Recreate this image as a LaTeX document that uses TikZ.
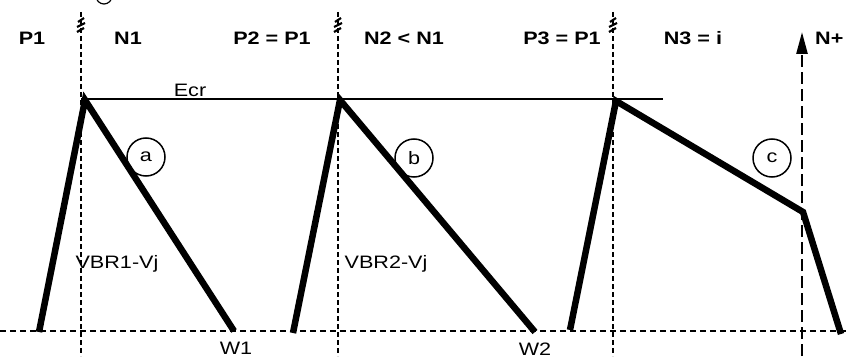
\documentclass[tikz,border=0pt]{standalone}
\usepackage{fontspec}
\setmainfont{Liberation Sans}
\newfontfamily\labfont[FakeStretch=1.2]{Liberation Sans}
\usetikzlibrary{arrows.meta}
\begin{document}
\begin{tikzpicture}[x=1pt,y=-1pt,
  toplab/.style={font=\labfont\fontsize{18}{20}\selectfont\bfseries, inner sep=0pt, anchor=base},
  txtlab/.style={font=\labfont\fontsize{18}{20}\selectfont, inner sep=0pt, anchor=base},
  pulse/.style={line width=6.5pt, line join=miter},
  guide/.style={line width=1.8pt, dash pattern=on 5pt off 3pt},
  baseln/.style={line width=1.8pt, dash pattern=on 6pt off 4pt},
  marker/.style={circle, draw, line width=1.5pt, minimum size=38pt, inner sep=0pt, font=\labfont\fontsize{18}{20}\selectfont},
  squig/.style={line width=2.2pt}]
\useasboundingbox (0,0) rectangle (850,358);
% guides
\coordinate (v1t) at (81,12); \coordinate (v1b) at (81,356);
\coordinate (v2t) at (338,12); \coordinate (v2b) at (338,356);
\coordinate (v3t) at (613,12); \coordinate (v3b) at (613,356);
\draw[guide] (v1t) -- (v1b);
\draw[guide] (v2t) -- (v2b);
\draw[guide] (v3t) -- (v3b);
% squiggles
\foreach \x in {81,338,613}{
  \draw[squig] (\x-3,22) -- (\x+3,18) (\x-4,27) -- (\x+4,23) (\x-4,32) -- (\x+3,28);
}
\draw[line width=1.2pt] (104,-4) circle (8);
% baseline and Ecr
\coordinate (bl) at (0,331); \coordinate (br) at (850,331);
\draw[baseln] (bl) -- (br);
\coordinate (e1) at (81,99); \coordinate (e2) at (663,99);
\draw[line width=1.8pt] (e1) -- (e2);
% N+ arrow
\coordinate (nb) at (802,356); \coordinate (nt) at (802,32);
\draw[line width=2.6pt, dash pattern=on 12pt off 5pt, -{Triangle[length=22pt,width=11pt]}] (nb) -- (nt);
% pulses
\coordinate (s1a) at (39,332); \coordinate (s1p) at (85,100); \coordinate (s1b) at (234,331);
\coordinate (s2a) at (293,333); \coordinate (s2p) at (340,100); \coordinate (s2b) at (535,332);
\coordinate (s3a) at (570,330); \coordinate (s3p) at (616,101); \coordinate (s3k) at (803,212); \coordinate (s3b) at (841,334);
\draw[pulse] (s1a) -- (s1p) -- (s1b);
\draw[pulse] (s2a) -- (s2p) -- (s2b);
\draw[pulse] (s3a) -- (s3p) -- (s3k) -- (s3b);
% markers
\node[marker] (ma) at (146,157) {a};
\node[marker] (mb) at (414,158) {b};
\node[marker] (mc) at (772,158) {c};
% labels
\node[toplab] (lp1) at (32,45) {P1};
\node[toplab] (ln1) at (128,45) {N1};
\node[toplab] (lp2) at (272,45) {P2 = P1};
\node[toplab] (ln2) at (404,45) {N2 < N1};
\node[toplab] (lp3) at (562,45) {P3 = P1};
\node[toplab] (ln3) at (693,45) {N3 = i};
\node[toplab, anchor=base west] (lnp) at (815,45) {N+};
\node[txtlab] (ecr) at (190,97) {Ecr};
\node[txtlab] (vbr1) at (117,268) {VBR1-Vj};
\node[txtlab] (vbr2) at (386,268) {VBR2-Vj};
\node[txtlab] (w1) at (236,354) {W1};
\node[txtlab] (w2) at (535,355) {W2};
\end{tikzpicture}
\end{document}
